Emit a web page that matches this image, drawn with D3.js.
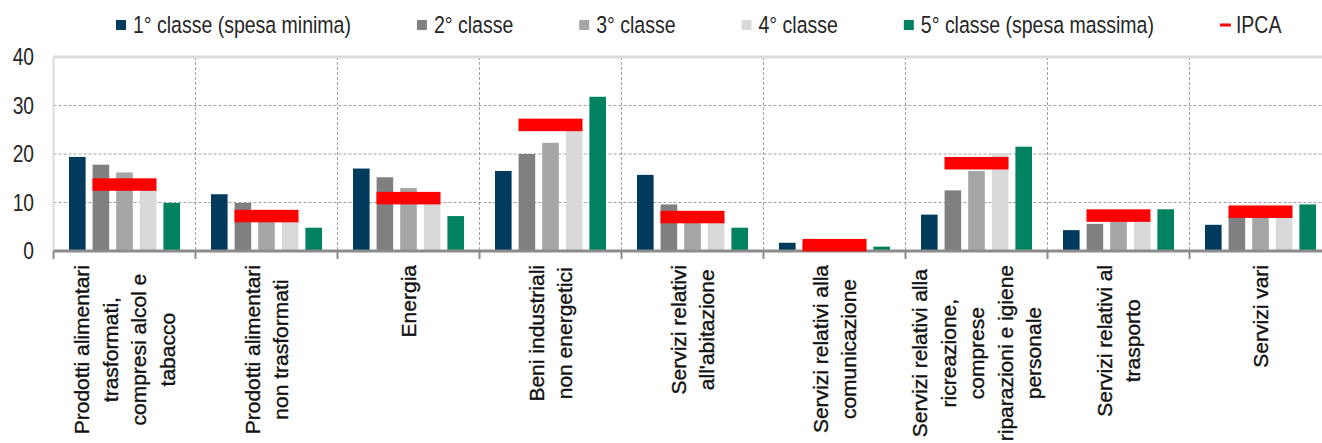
<!DOCTYPE html>
<html>
<head>
<meta charset="utf-8">
<script src="https://cdn.jsdelivr.net/npm/d3@7"></script>
<style>
  html, body { margin: 0; padding: 0; background: #fff; }
  #chart { width: 1322px; height: 443px; overflow: hidden; }
</style>
</head>
<body>
<div id="chart"></div>
<script>
// categories (each entry is the list of label lines)
const categories = [
  ["Prodotti alimentari", "trasformati,", "compresi alcol e", "tabacco"],
  ["Prodotti alimentari", "non trasformati"],
  ["Energia"],
  ["Beni industriali", "non energetici"],
  ["Servizi relativi", "all'abitazione"],
  ["Servizi relativi alla", "comunicazione"],
  ["Servizi relativi alla", "ricreazione,", "comprese", "riparazioni e igiene", "personale"],
  ["Servizi relativi al", "trasporto"],
  ["Servizi vari"]
];

const seriesNames = [
  "1° classe (spesa minima)",
  "2° classe",
  "3° classe",
  "4° classe",
  "5° classe (spesa massima)"
];
const seriesColors = ["#003a5d", "#808080", "#a6a6a6", "#d9d9d9", "#008260"];

// values
const class1 = [19.4, 11.7, 17.0, 16.5, 15.7, 1.7, 7.5, 4.3, 5.4];
const class2 = [17.8, 9.9, 15.2, 20.0, 9.6, 1.5, 12.5, 5.6, 7.5];
const class3 = [16.2, 7.5, 13.0, 22.3, 6.5, 1.5, 16.5, 6.5, 7.5];
const class4 = [13.0, 7.0, 10.5, 25.5, 6.5, 1.5, 20.1, 6.5, 7.5];
const class5 = [9.9, 4.8, 7.2, 31.8, 4.8, 0.9, 21.5, 8.6, 9.6];
const ipca = [13.7, 7.2, 10.9, 26.0, 7.0, 1.2, 18.1, 7.3, 8.1];

const yTicks = [0, 10, 20, 30, 40];

const series = [class1, class2, class3, class4, class5];

const width = 1322;
const height = 443;
const plot = { left: 53.5, top: 57, bottom: 251, catWidth: 142 };
plot.right = plot.left + plot.catWidth * categories.length; // goes past the right edge, like the reference

// no narrow font installed, so squeeze the regular one
const narrowTicks = 0.8;
const narrowLegend = 0.83;
const textFont = "'Liberation Sans', Arial, sans-serif";

const svg = d3.select("#chart")
  .append("svg")
  .attr("width", width)
  .attr("height", height);

const x = d3.scaleBand()
  .domain(d3.range(categories.length))
  .range([plot.left, plot.right])
  .padding(0);

const xInner = d3.scaleBand()
  .domain(d3.range(series.length))
  .range([15.5, plot.catWidth - 15.5])
  .paddingInner(0.297)
  .paddingOuter(0);

const y = d3.scaleLinear().domain([0, 40]).range([plot.bottom, plot.top]);

// horizontal dashed grid
svg.append("g")
  .selectAll("line")
  .data(yTicks.filter(d => d > 0 && d < 40))
  .enter()
  .append("line")
  .attr("x1", plot.left)
  .attr("x2", plot.right)
  .attr("y1", d => y(d))
  .attr("y2", d => y(d))
  .style("stroke", "#a0a0a0")
  .style("stroke-width", 1)
  .style("stroke-dasharray", "3,2");

// vertical dashed dividers between categories
svg.append("g")
  .selectAll("line")
  .data(d3.range(1, categories.length))
  .enter()
  .append("line")
  .attr("x1", d => x(d))
  .attr("x2", d => x(d))
  .attr("y1", plot.top)
  .attr("y2", plot.bottom)
  .style("stroke", "#a0a0a0")
  .style("stroke-width", 1)
  .style("stroke-dasharray", "3,2");

// top border and left border
svg.append("line")
  .attr("x1", plot.left).attr("x2", plot.right)
  .attr("y1", y(40)).attr("y2", y(40))
  .style("stroke", "#dcdcdc").style("stroke-width", 3);
svg.append("line")
  .attr("x1", plot.left).attr("x2", plot.left)
  .attr("y1", y(40)).attr("y2", plot.bottom)
  .style("stroke", "#dcdcdc").style("stroke-width", 2);

// bars
const groups = svg.append("g")
  .selectAll("g")
  .data(categories.map((c, i) => i))
  .enter()
  .append("g")
  .attr("transform", i => `translate(${x(i)},0)`);

groups.selectAll("rect")
  .data(i => series.map((s, k) => ({ k: k, v: s[i] })))
  .enter()
  .append("rect")
  .attr("x", d => xInner(d.k))
  .attr("width", xInner.bandwidth())
  .attr("y", d => y(d.v))
  .attr("height", d => y(0) - y(d.v))
  .attr("fill", d => seriesColors[d.k]);

// x axis line with ticks at the category borders
svg.append("line")
  .attr("x1", plot.left).attr("x2", plot.right)
  .attr("y1", plot.bottom).attr("y2", plot.bottom)
  .style("stroke", "#8c8c8c").style("stroke-width", 3);
svg.append("g")
  .selectAll("line")
  .data(d3.range(0, categories.length + 1))
  .enter()
  .append("line")
  .attr("x1", d => plot.left + d * plot.catWidth)
  .attr("x2", d => plot.left + d * plot.catWidth)
  .attr("y1", plot.bottom)
  .attr("y2", plot.bottom + 8)
  .style("stroke", "#8c8c8c")
  .style("stroke-width", 2);

// IPCA markers drawn over the bars
const ipcaWidth = 64;
const ipcaThick = 12.5;
svg.append("g")
  .selectAll("rect")
  .data(ipca)
  .enter()
  .append("rect")
  .attr("x", (d, i) => x(i) + x.bandwidth() / 2 - ipcaWidth / 2)
  .attr("width", ipcaWidth)
  .attr("y", d => y(d) - ipcaThick / 2)
  .attr("height", ipcaThick)
  .attr("fill", "#ff0000");

// y tick labels
svg.append("g")
  .selectAll("text")
  .data(yTicks)
  .enter()
  .append("text")
  .attr("text-anchor", "end")
  .attr("dy", "0.35em")
  .attr("transform", d => `translate(34,${y(d)}) scale(${narrowTicks},1)`)
  .style("font-family", textFont)
  .style("font-size", "24px")
  .style("fill", "#262626")
  .text(d => d);

// rotated category labels
const lineGap = 28.5;
const labelTop = 265;
categories.forEach((lines, i) => {
  const cx = x(i) + x.bandwidth() / 2;
  const g = svg.append("g");
  const texts = g.selectAll("text")
    .data(lines)
    .enter()
    .append("text")
    .attr("text-anchor", "middle")
    .attr("dominant-baseline", "central")
    .style("font-family", textFont)
    .style("font-size", "21px")
    .style("fill", "#111")
    .style("stroke", "#111")
    .style("stroke-width", 0.35)
    .text(d => d);
  let maxLen = 0;
  texts.each(function () {
    maxLen = Math.max(maxLen, this.getComputedTextLength());
  });
  const cy = labelTop + maxLen / 2;
  texts.attr("transform", (d, k) =>
    `translate(${cx + (k - (lines.length - 1) / 2) * lineGap},${cy}) rotate(-90)`);
});

// legend
const legend = svg.append("g");
let lx = 116;
const legendY = 25;
function legendText(px, label) {
  const t = legend.append("text")
    .attr("dy", "0.35em")
    .attr("transform", `translate(${px},${legendY}) scale(${narrowLegend},1)`)
    .style("font-family", textFont)
    .style("font-size", "23.5px")
    .style("fill", "#262626")
    .text(label);
  return t.node().getComputedTextLength() * narrowLegend;
}
seriesNames.forEach((name, k) => {
  legend.append("rect")
    .attr("x", lx)
    .attr("y", legendY - 5)
    .attr("width", 10)
    .attr("height", 10)
    .attr("fill", seriesColors[k]);
  lx += 17 + legendText(lx + 17, name) + 66;
});
legend.append("line")
  .attr("x1", lx).attr("x2", lx + 11)
  .attr("y1", legendY).attr("y2", legendY)
  .style("stroke", "#ff0000").style("stroke-width", 3);
legendText(lx + 16, "IPCA");
</script>
</body>
</html>
